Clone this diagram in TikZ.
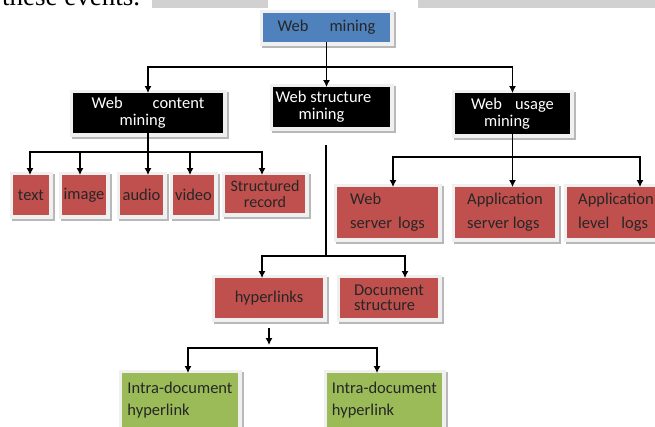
\documentclass[tikz,border=0pt]{standalone}
\usepackage{fontspec}
\setmainfont{Carlito}
\newfontfamily\pagefont{Liberation Serif}
\usetikzlibrary{arrows.meta}
\definecolor{wmblue}{HTML}{4F81BD}
\definecolor{wmred}{HTML}{C0504D}
\definecolor{wmgreen}{HTML}{9BBB59}
\tikzset{
  box/.style={inner sep=0pt, outer sep=0pt, line join=miter,
    font=\fontsize{16.5}{17}\selectfont,
    preaction={fill=black!28, draw=black!28, line width=7pt,
      transform canvas={xshift=2pt, yshift=-2.5pt}},
    preaction={fill=black!6, draw=black!6, line width=7pt}},
  darkbox/.style={box, fill=black, text=white, align=left},
  redbox/.style={box, fill=wmred, text=black!85},
  greenbox/.style={box, fill=wmgreen, text=black!85, align=left,
    font=\fontsize{16.5}{22}\selectfont},
  arr/.style={-{Latex[length=7pt,width=7pt]}, line width=1.1pt}
}
\begin{document}
\begin{tikzpicture}[x=1pt, y=-1pt]
\useasboundingbox (0,0) rectangle (655,426);
% remains of the page above
\fill[black!18] (152,0) rectangle (268,8);
\fill[black!18] (418,0) rectangle (655,8);
\node[anchor=base west, inner sep=0pt, font=\pagefont\fontsize{27}{27}\selectfont] (prev) at (2,5) {these events.};

% root
\node[box, fill=wmblue, text=black!85, minimum width=127pt, minimum height=29pt] (wm) at (326.5,27.5) {Web\hspace{21pt}mining};

% three kinds
\node[darkbox, minimum width=150pt, minimum height=40pt] (wcm) at (148,113) {Web\hspace{30pt}content\\\hspace*{28pt}mining};
\node[darkbox, minimum width=117pt, minimum height=40pt] (wsm) at (331.5,107) {Web structure\hspace*{16pt}\\\hspace*{23pt}mining};
\node[darkbox, minimum width=115pt, minimum height=41pt] (wum) at (512.5,113.5) {Web\hspace{13pt}usage\\\hspace*{13pt}mining};

\draw[arr] (wm.south) -- ++(0,25) -| (wcm.north);
\draw[arr] (wm.south) -- ++(0,25) -| (wum.north);
\draw[arr] (wm.south) -- (wm.south |- wsm.north);

% content
\node[redbox, minimum width=36pt, minimum height=40pt] (txt) at (31,195) {text};
\node[redbox, minimum width=44pt, minimum height=40pt] (img) at (84,195) {image};
\node[redbox, minimum width=43pt, minimum height=40pt] (aud) at (141.5,195) {audio};
\node[redbox, minimum width=41pt, minimum height=40pt] (vid) at (193.5,195) {video};
\node[redbox, align=center, font=\fontsize{16}{16.5}\selectfont, minimum width=80pt, minimum height=38pt] (srec) at (265,194) {Structured\\record};

\draw[arr] (wcm.south) -- ++(0,19) -| ([xshift=-1pt]txt.north);
\draw[arr] (wcm.south) -- ++(0,19) -| ([xshift=-4pt]img.north);
\draw[arr] (wcm.south) -- (wcm.south |- aud.north);
\draw[arr] (wcm.south) -- ++(0,19) -| ([xshift=-3.5pt]vid.north);
\draw[arr] (wcm.south) -- ++(0,19) -| ([xshift=-3pt]srec.north);

% usage
\node[redbox, align=left, minimum width=101pt, minimum height=51pt] (wsl) at (387.5,212.5) {Web\\[7pt]server\hspace{6pt}logs};
\node[redbox, align=left, minimum width=100pt, minimum height=51pt] (asl) at (505,212.5) {Application\\[7pt]server logs};
\node[redbox, align=left, minimum width=98pt, minimum height=51pt] (all) at (616,212.5) {Application\\[7pt]level\hspace{12pt}logs};

\draw[arr] (wum.south) -- ++(0,23) -| ([xshift=5.5pt]wsl.north);
\draw[arr] (wum.south) -- (wum.south |- asl.north);
\draw[arr] (wum.south) -- ++(0,23) -| ([xshift=24pt]all.north);

% structure
\node[redbox, minimum width=108pt, minimum height=40pt] (hyp) at (269,298) {hyperlinks};
\node[redbox, align=left, font=\fontsize{16.5}{15}\selectfont, minimum width=98pt, minimum height=40pt] (doc) at (389,298) {Document\\structure};

\coordinate (sv) at (326,145);
\coordinate (sbus) at (326,256);
\draw[line width=1.1pt] (sv) -- (sbus);
\draw[arr] (sbus) -| ([xshift=-7pt]hyp.north);
\draw[arr] (sbus) -| ([xshift=16pt]doc.north);

% hyperlinks
\node[greenbox, minimum width=116pt, minimum height=55pt] (intra1) at (180,400.5) {Intra-document\\hyperlink};
\node[greenbox, minimum width=115pt, minimum height=55pt] (intra2) at (384.5,400.5) {Intra-document\\hyperlink};

\coordinate (ibus) at (hyp.south |- 0,348);
\draw[arr] ([yshift=-10pt]hyp.south) -- ([yshift=3pt]ibus);
\draw[arr] (ibus) -| ([xshift=8pt]intra1.north);
\draw[arr] (ibus) -| ([xshift=-7.5pt]intra2.north);
\end{tikzpicture}
\end{document}
